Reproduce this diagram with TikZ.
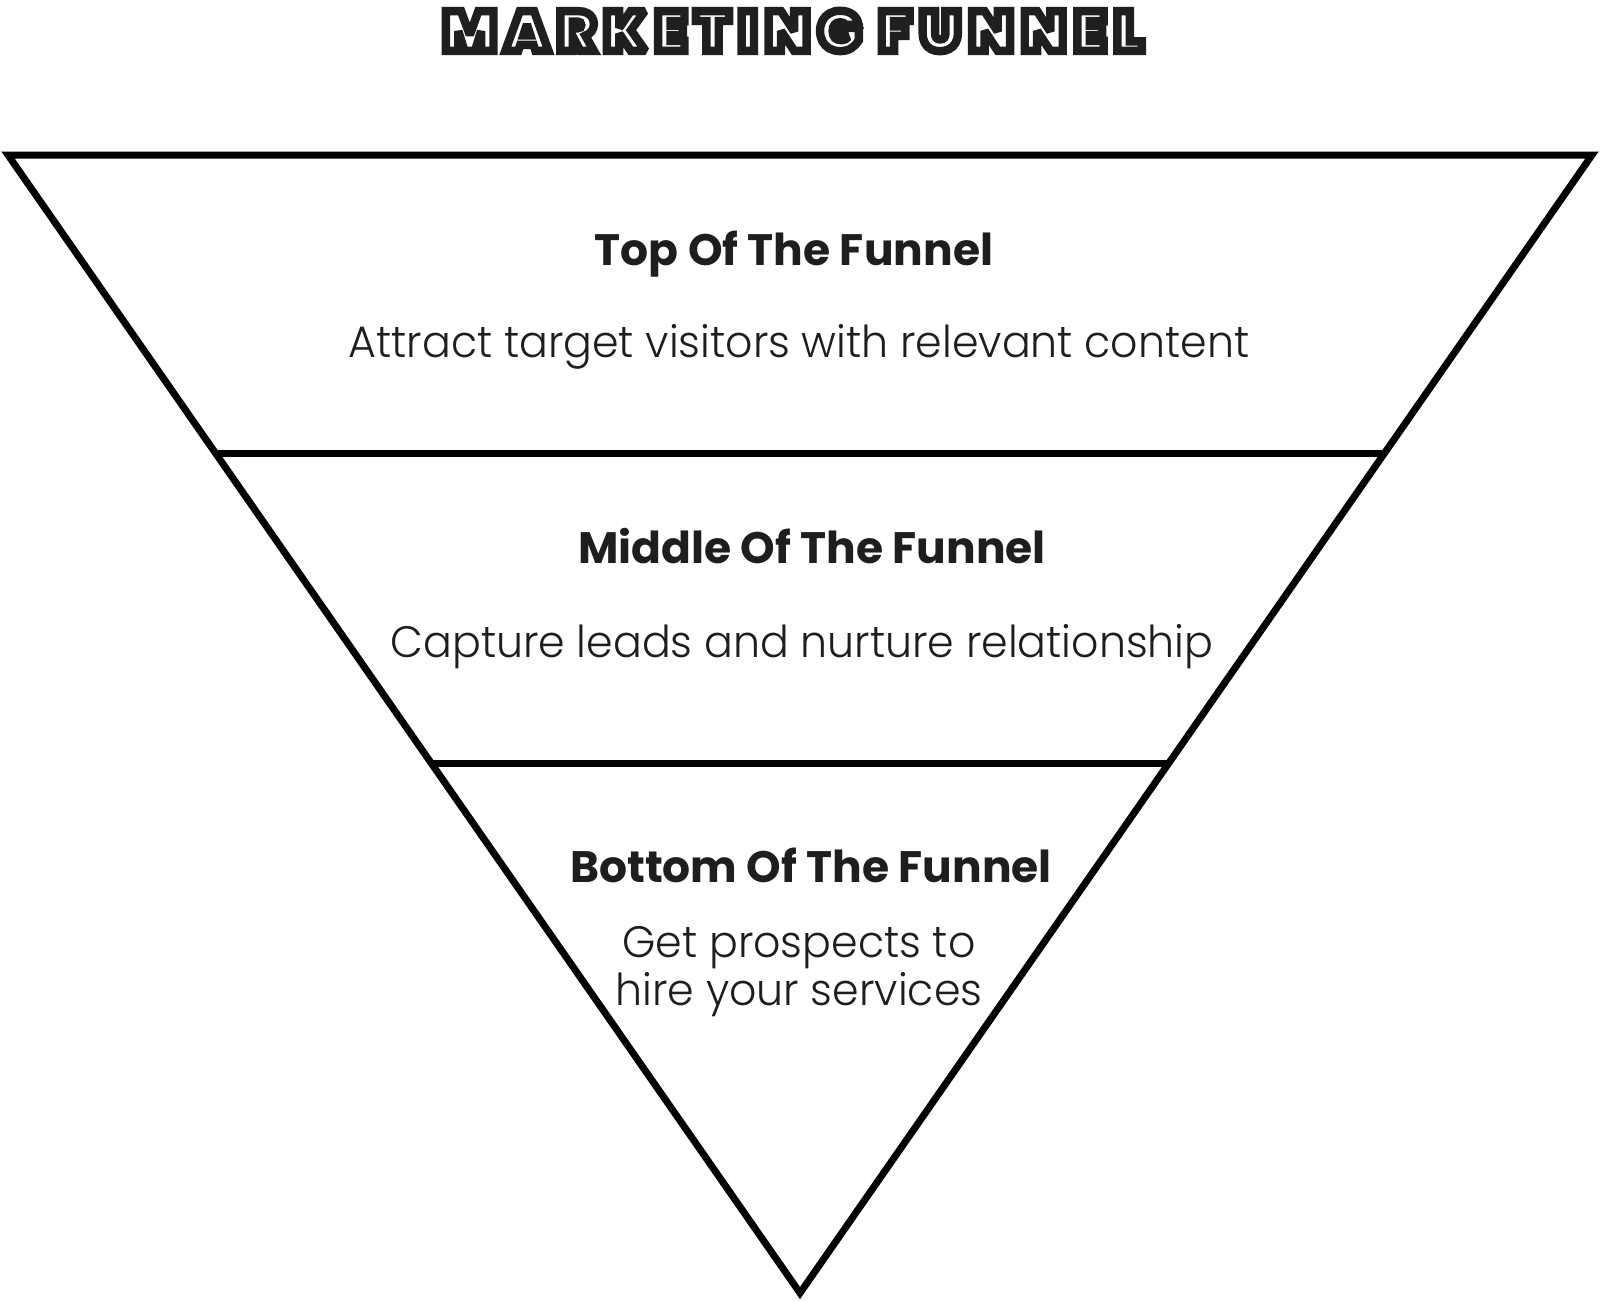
\documentclass[tikz,border=0pt]{standalone}
\usepackage{fontspec}
\usepackage{xcolor}
\usetikzlibrary{calc}
\definecolor{ink}{RGB}{30, 30, 30}

% Fuentes
\IfFontExistsTF{Poppins Light}
  {\newfontfamily\blurbfont{Poppins Light}[FakeStretch=0.97]}
  {\newfontfamily\blurbfont{Poppins}[FakeStretch=0.97]}
\newfontfamily\headfont{Poppins}
\IfFontExistsTF{Poppins Black}
  {\newfontfamily\titlefont{Poppins Black}[LetterSpace=16]}
  {\IfFontExistsTF{Poppins ExtraBold}
    {\newfontfamily\titlefont{Poppins ExtraBold}[LetterSpace=16]}
    {\newfontfamily\titlefont{Poppins Bold}[LetterSpace=16]}}

% letras con linea blanca interior: relleno blanco + trazo negro
\newcommand\inlinetext[1]{\special{pdf:literal direct q 2 Tr 4.2 w 0 j 2 M 1 g 0.12 G}#1\special{pdf:literal direct Q}}

\begin{document}
\begin{tikzpicture}[x=0.5pt, y=-0.5pt,
  funnel/.style={line width=3.5pt, line join=miter},
  heading/.style={font=\headfont\bfseries\fontsize{22}{26}\selectfont, text=ink, inner sep=0pt, anchor=base},
  blurb/.style={font=\blurbfont\fontsize{22}{24}\selectfont, text=ink, inner sep=0pt, anchor=base, align=center}]
  \fill[white] (0,0) rectangle (1600,1301);
  \useasboundingbox (0,0) rectangle (1600,1301);

  % Titulo
  \node[font=\titlefont\fontsize{28}{30}\selectfont, inner sep=0pt] (title) at (793,31)
    {\inlinetext{MARKETING FUNNEL}};

  % Embudo
  \coordinate (tl) at (8,155);
  \coordinate (tr) at (1592,155);
  \coordinate (tip) at (800,1293);
  \draw[funnel] (tl) -- (tr) -- (tip) -- cycle;
  \coordinate (l1) at ($(tl)!0.2627!(tip)$);
  \coordinate (r1) at ($(tr)!0.2627!(tip)$);
  \coordinate (l2) at ($(tl)!0.5343!(tip)$);
  \coordinate (r2) at ($(tr)!0.5343!(tip)$);
  \draw[funnel] (l1) -- (r1);
  \draw[funnel] (l2) -- (r2);

  % Etapas
  \node[heading] (tofu) at (794,265) {Top Of The Funnel};
  \node[blurb] (tofutext) at (799,357) {Attract target visitors with relevant content};
  \node[heading] (mofu) at (812,563) {Middle Of The Funnel};
  \node[blurb] (mofutext) at (802,657) {Capture leads and nurture relationship};
  \node[heading] (bofu) at (811,882) {Bottom Of The Funnel};
  \node[blurb] (bofutext) at (799,1005) {Get prospects to\\hire your services};
\end{tikzpicture}
\end{document}
